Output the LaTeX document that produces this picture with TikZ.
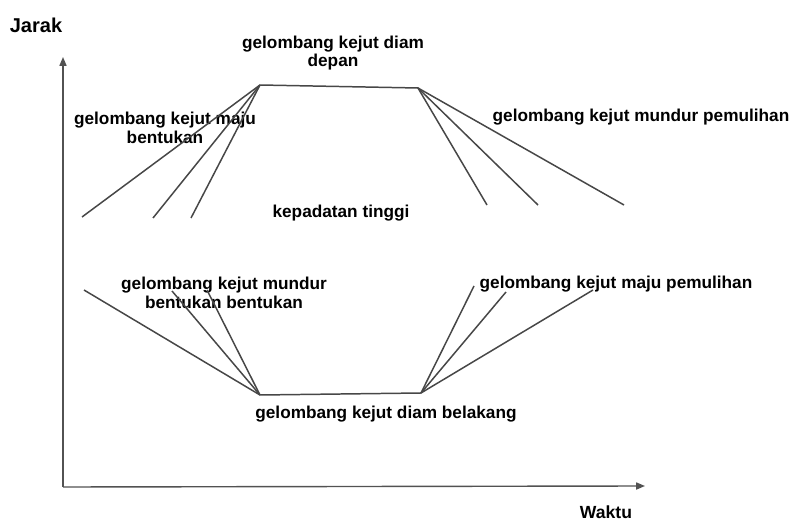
\documentclass[tikz,border=0pt]{standalone}
\usepackage{fontspec}
\setmainfont{Liberation Sans}
\usetikzlibrary{arrows.meta}
\begin{document}
\begin{tikzpicture}[x=0.02cm, y=-0.02cm, >={Triangle[length=5pt,width=4pt]},
    wave/.style={draw=black!72, line width=0.85pt},
    axis/.style={draw=black!68, line width=0.8pt, ->},
    lbl/.style={font=\fontsize{9.8}{10.6}\selectfont\bfseries, align=center, inner sep=0pt}]
    \useasboundingbox (0,0) rectangle (795,520);
    % axes
    \coordinate (O) at (63,487);
    \coordinate (ytip) at (63,57);
    \coordinate (xtip) at (645,486);
    \draw[axis] (O) -- (ytip);
    \draw[axis] (O) -- (xtip);
    \node[lbl, font=\fontsize{11.4}{12}\selectfont\bfseries] (jarak) at (36,25) {Jarak};
    \node[lbl, font=\fontsize{10}{12}\selectfont\bfseries] (waktu) at (606,512) {Waktu};
    % labels
    \node[lbl] (diamdepan) at (333,53) {gelombang kejut diam\\depan};
    \node[lbl] (majubentukan) at (165,128) {gelombang kejut maju\\bentukan};
    \node[lbl] (mundurpemulihan) at (641,117) {gelombang kejut mundur pemulihan};
    \node[lbl] (padat) at (341,213) {kepadatan tinggi};
    \node[lbl] (mundurbentukan) at (224,293) {gelombang kejut mundur\\bentukan bentukan};
    \node[lbl] (majupemulihan) at (616,284) {gelombang kejut maju pemulihan};
    \node[lbl] (diambelakang) at (386,414) {gelombang kejut diam belakang};
    % shock waves
    \coordinate (fa) at (260,85);
    \coordinate (fb) at (418,88);
    \coordinate (ba) at (260,395);
    \coordinate (bb) at (421,393);
    \draw[wave] (fa) -- (fb);
    \draw[wave] (ba) -- (bb);
    \foreach \n/\x/\y in {1/82/217, 2/153/218, 3/191/218}{
      \coordinate (fa\n) at (\x,\y);
      \draw[wave] (fa) -- (fa\n);
    }
    \foreach \n/\x/\y in {1/487/205, 2/538/205, 3/624/205}{
      \coordinate (fb\n) at (\x,\y);
      \draw[wave] (fb) -- (fb\n);
    }
    \foreach \n/\x/\y in {1/84/290, 2/172/291, 3/207/290}{
      \coordinate (ba\n) at (\x,\y);
      \draw[wave] (ba) -- (ba\n);
    }
    \foreach \n/\x/\y in {1/474/286, 2/506/292, 3/593/290}{
      \coordinate (bb\n) at (\x,\y);
      \draw[wave] (bb) -- (bb\n);
    }
\end{tikzpicture}
\end{document}
